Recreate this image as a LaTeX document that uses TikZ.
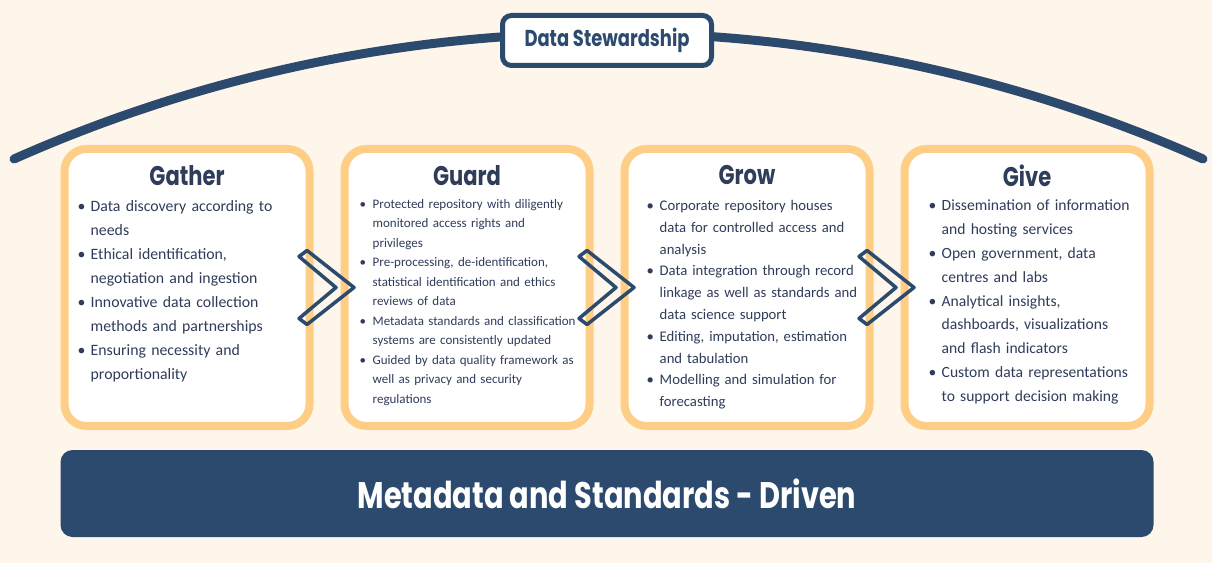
\documentclass[tikz,border=0pt]{standalone}
\usepackage{fontspec}
\setmainfont{Carlito}
\newfontfamily\headfont{Poppins}[FakeStretch=0.78]
\usetikzlibrary{positioning, calc}
\definecolor{navy}{HTML}{2C4A6E}
\definecolor{inkblue}{HTML}{2F3C5A}
\definecolor{sand}{HTML}{FECE86}
\definecolor{cream}{HTML}{FEF5EB}

% one bullet point with hanging lines
\newcommand{\bul}[1]{\noindent\hangindent=13pt\hangafter=1%
  \makebox[13pt][l]{\textbullet}{\let\\\newline #1}\par}

\begin{document}
\begin{tikzpicture}[x=1pt, y=1pt,
    card/.style={draw=sand, line width=8pt, fill=white, rounded corners=22pt,
                 minimum width=245pt, minimum height=277pt, outer sep=0pt},
    cardtitle/.style={font=\headfont\bfseries\fontsize{27}{30}\selectfont,
                      text=inkblue, inner sep=0pt},
    cardlist/.style={text=inkblue, inner sep=0pt, text width=236pt, align=left},
    chevron/.style={draw=navy, line width=3.5pt, line join=round},
    stewline/.style={draw=navy, line width=9pt, line cap=round},
    stewbox/.style={draw=navy, line width=5pt, fill=white, rounded corners=9pt,
                    minimum width=209pt, minimum height=50pt, text=navy,
                    font=\headfont\bfseries\fontsize{23}{26}\selectfont},
    basebar/.style={fill=navy, rounded corners=12pt, minimum width=1093pt,
                    minimum height=87pt, text=white, outer sep=0pt,
                    font=\headfont\bfseries\fontsize{37}{40}\selectfont},
    node distance=35pt
]
    % canvas
    \useasboundingbox (0,0) rectangle (1212,563);
    \fill[cream] (0,0) rectangle (1212,563);

    % stewardship arc over the four stages
    \coordinate (arcl) at (14,404);
    \coordinate (arcr) at (1203,404);
    \draw[stewline] (arcl) .. controls +(378,168) and +(-378,168) .. (arcr);
    \node[stewbox] (stew) at (607,522.5) {Data Stewardship};

    % stage cards
    \node[card] (gather) at (187,275.5) {};
    \node[card, right=of gather] (guard) {};
    \node[card, right=of guard] (grow) {};
    \node[card, right=of grow] (give) {};

    \foreach \a/\b in {gather/guard, guard/grow, grow/give}
        \draw[chevron] ($(\a.east)!0.5!(\b.west)$) ++(-28,31) -- ++(8,6)
            -- ++(47,-37) -- ++(-47,-37) -- ++(-8,6) -- ++(37,31) -- cycle;

    % titles
    \node[cardtitle, below=16pt of gather.north] (gathertitle) {Gather};
    \node[cardtitle, below=16pt of guard.north] (guardtitle) {Guard};
    \node[cardtitle, below=16pt of grow.north] (growtitle) {Grow};
    \node[cardtitle, below=16pt of give.north] (givetitle) {Give};

    % bullet lists
    \node[cardlist, below right=51pt and 13pt of gather.north west,
          font=\fontsize{15.8}{24}\selectfont] (gatherlist) {%
        \bul{Data discovery according to\\needs}
        \bul{Ethical identification,\\negotiation and ingestion}
        \bul{Innovative data collection\\methods and partnerships}
        \bul{Ensuring necessity and\\proportionality}};
    \node[cardlist, below right=50pt and 15pt of guard.north west,
          font=\fontsize{13}{19.5}\selectfont] (guardlist) {%
        \bul{Protected repository with diligently\\monitored access rights and\\privileges}
        \bul{Pre-processing, de-identification,\\statistical identification and ethics\\reviews of data}
        \bul{Metadata standards and classification\\systems are consistently updated}
        \bul{Guided by data quality framework as\\well as privacy and security\\regulations}};
    \node[cardlist, below right=51pt and 22pt of grow.north west,
          font=\fontsize{14.7}{21.8}\selectfont] (growlist) {%
        \bul{Corporate repository houses\\data for controlled access and\\analysis}
        \bul{Data integration through record\\linkage as well as standards and\\data science support}
        \bul{Editing, imputation, estimation\\and tabulation}
        \bul{Modelling and simulation for\\forecasting}};
    \node[cardlist, below right=51pt and 24pt of give.north west,
          font=\fontsize{15.6}{23.8}\selectfont] (givelist) {%
        \bul{Dissemination of information\\and hosting services}
        \bul{Open government, data\\centres and labs}
        \bul{Analytical insights,\\dashboards, visualizations\\and flash indicators}
        \bul{Custom data representations\\to support decision making}};

    % base bar
    \coordinate (mid) at ($(guard.south)!0.5!(grow.south)$);
    \node[basebar, below=24pt of mid] (base) {Metadata and Standards - Driven};
\end{tikzpicture}
\end{document}
